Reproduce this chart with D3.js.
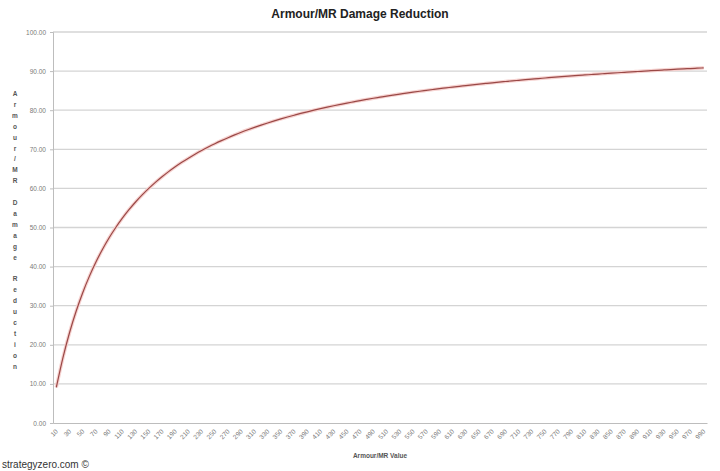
<!DOCTYPE html>
<html><head><meta charset="utf-8">
<script src="https://cdn.jsdelivr.net/npm/d3@7"></script>
<style>body{margin:0;background:#fff;}svg{display:block;font-family:"Liberation Sans",Arial,sans-serif;}</style>
</head><body>
<svg id="c" width="720" height="471"></svg>
<script>
const categories = [10,20,30,40,50,60,70,80,90,100,110,120,130,140,150,160,170,180,190,200,
210,220,230,240,250,260,270,280,290,300,310,320,330,340,350,360,370,380,390,400,
410,420,430,440,450,460,470,480,490,500,510,520,530,540,550,560,570,580,590,600,
610,620,630,640,650,660,670,680,690,700,710,720,730,740,750,760,770,780,790,800,
810,820,830,840,850,860,870,880,890,900,910,920,930,940,950,960,970,980,990];
const reduction = [9.09,16.67,23.08,28.57,33.33,37.50,41.18,44.44,47.37,50.00,
52.38,54.55,56.52,58.33,60.00,61.54,62.96,64.29,65.52,66.67,
67.74,68.75,69.70,70.59,71.43,72.22,72.97,73.68,74.36,75.00,
75.61,76.19,76.74,77.27,77.78,78.26,78.72,79.17,79.59,80.00,
80.39,80.77,81.13,81.48,81.82,82.14,82.46,82.76,83.05,83.33,
83.61,83.87,84.12,84.38,84.62,84.85,85.07,85.29,85.51,85.71,
85.92,86.11,86.30,86.49,86.67,86.84,87.01,87.18,87.34,87.50,
87.65,87.80,87.95,88.10,88.24,88.37,88.51,88.64,88.76,88.89,
89.01,89.13,89.25,89.36,89.47,89.58,89.69,89.80,89.90,90.00,
90.10,90.20,90.29,90.38,90.48,90.57,90.65,90.74,90.83];
const xTickLabels = [10,30,50,70,90,110,130,150,170,190,210,230,250,270,290,310,330,350,370,390,
410,430,450,470,490,510,530,550,570,590,610,630,650,670,690,710,730,750,770,790,
810,830,850,870,890,910,930,950,970,990];
const yTicks = [0,10,20,30,40,50,60,70,80,90,100];
const title = "Armour/MR Damage Reduction";
const xTitle = "Armour/MR Value";
const yTitle = "Armour/MR Damage Reduction";
const credit = "strategyzero.com ©";

const svg = d3.select("#c");
const L=53, R=707, T=32, B=423;
const x = d3.scaleBand().domain(categories).range([L,R]).padding(0);
const y = d3.scaleLinear().domain([0,100]).range([B,T]);

// gridlines
svg.append("g").selectAll("line").data(yTicks.filter(d=>d>0)).join("line")
  .attr("x1",L).attr("x2",R).attr("y1",d=>y(d)).attr("y2",d=>y(d))
  .attr("stroke","#d4d4d4").attr("stroke-width",1.3);

// y axis
const ya = svg.append("g").attr("transform",`translate(${L},0)`)
  .call(d3.axisLeft(y).tickValues(yTicks).tickSize(3).tickPadding(4).tickFormat(d3.format(".2f")));
ya.select(".domain").attr("stroke","#bdbdbd");
ya.selectAll(".tick line").attr("stroke","#bdbdbd");
ya.selectAll("text").attr("fill","#7a7a7a").style("font-size","6.5px");

// x axis
const xa = svg.append("g").attr("transform",`translate(0,${B})`)
  .call(d3.axisBottom(x).tickValues(xTickLabels).tickSize(0).tickPadding(0));
xa.select(".domain").attr("stroke","#bdbdbd");
xa.selectAll(".tick text").attr("fill","#7a7a7a").style("font-size","6.5px")
  .attr("text-anchor","end").attr("dy",0)
  .attr("transform","translate(2,9) rotate(-45)");

// line
const line = d3.line().x((d,i)=>x(categories[i])+x.bandwidth()/2).y(d=>y(d)).curve(d3.curveMonotoneX);
svg.append("path").datum(reduction).attr("d",line).attr("fill","none")
  .attr("stroke","#f6d2d0").attr("stroke-width",3.5).attr("stroke-linejoin","round");
svg.append("path").datum(reduction).attr("d",line).attr("fill","none")
  .attr("stroke","#9a4846").attr("stroke-width",1.2).attr("stroke-linejoin","round");

// title
svg.append("text").attr("x",360).attr("y",18).attr("text-anchor","middle")
  .attr("font-weight","bold").style("font-size","12px").attr("fill","#222").text(title);

// x title
svg.append("text").attr("x",380).attr("y",458).attr("text-anchor","middle")
  .attr("font-weight","bold").style("font-size","6.5px").attr("fill","#555").text(xTitle);

// y title stacked letters
const ychars = yTitle.split("");
svg.append("g").selectAll("text").data(ychars).join("text")
  .attr("x",15).attr("y",(d,i)=>96+i*10.9).attr("text-anchor","middle")
  .attr("font-weight","bold").style("font-size","6.5px").attr("fill","#555").text(d=>d);

// credit
svg.append("text").attr("x",2).attr("y",468).style("font-size","10px").attr("fill","#333").text(credit);
</script>
</body></html>
